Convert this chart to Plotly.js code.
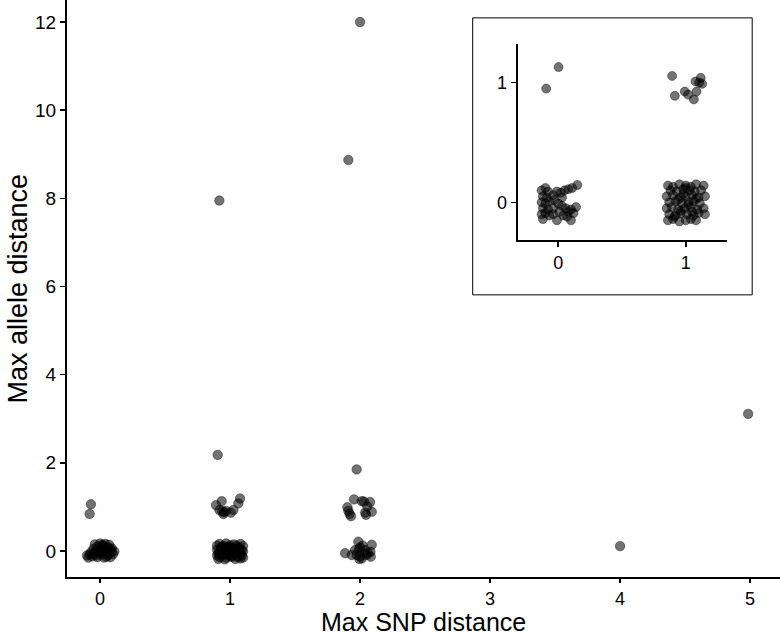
<!DOCTYPE html>
<html>
<head>
<meta charset="utf-8">
<script src="https://cdn.plot.ly/plotly-3.0.1.min.js"></script>
<style>
  html, body { margin: 0; padding: 0; background: #fff; }
  #chart { width: 780px; height: 636px; }
</style>
</head>
<body>
<div id="chart"></div>
<script>
// Main panel: jittered points (Max SNP distance, Max allele distance)
const mainX = [
  // SNP 0
  -0.07, -0.08,
  -0.04, 0.00, 0.04, 0.07, -0.02, 0.02, 0.06, -0.05, 0.00, 0.04, 0.08, -0.03, 0.01, 0.05, 0.09,
  -0.07, -0.10, -0.09, -0.06, -0.04, -0.02, 0.01, 0.03, 0.06, 0.08, 0.10, 0.11, 0.03, -0.01, 0.07,
  -0.08, 0.05, 0.09, -0.03, 0.02,
  // SNP 1
  0.918, 0.905,
  0.892, 0.936, 0.918, 0.949, 0.969, 1.026, 1.064, 1.077, 0.955, 0.940, 1.005,
  0.92, 0.97, 1.03, 1.08, 0.90, 0.95, 1.00, 1.05, 1.10, 0.93, 0.98, 1.02, 1.07,
  0.90, 0.96, 1.01, 1.04, 1.09, 0.92, 0.97, 1.00, 1.06, 1.10, 0.91, 0.95, 1.02, 1.05, 1.08,
  0.90, 0.94, 0.99, 1.03, 1.09, 0.92, 0.97, 1.01, 1.06, 1.10, 0.91, 0.96, 1.04, 1.08,
  0.99, 1.01, 0.94, 1.06, 0.96, 1.03,
  // SNP 2
  2.00, 1.91, 1.974,
  1.903, 1.954, 2.013, 2.077, 2.090, 2.046, 1.930, 1.910, 2.056, 2.030, 2.040, 1.920,
  1.885, 1.936, 1.987, 2.000, 2.090, 2.082, 2.013, 1.962, 2.038, 2.051, 1.974, 1.995, 2.080,
  2.000, 2.020, 1.990, 2.060,
  // SNP 4, 5
  4.00, 4.985
];
const mainY = [
  // SNP 0
  1.06, 0.84,
  0.15, 0.17, 0.16, 0.14, 0.10, 0.11, 0.08, 0.05, 0.05, 0.03, 0.04, 0.00, -0.01, 0.00, -0.02,
  -0.03, -0.10, -0.15, -0.12, -0.06, -0.14, -0.08, -0.15, -0.10, -0.14, -0.07, -0.01, 0.07, -0.04, -0.05,
  -0.08, -0.13, 0.06, -0.10, 0.14,
  // SNP 1
  7.95, 2.18,
  1.04, 1.13, 0.93, 0.84, 0.91, 0.93, 1.08, 1.19, 0.88, 0.90, 0.87,
  0.16, 0.17, 0.15, 0.16, 0.12, 0.11, 0.13, 0.12, 0.11, 0.07, 0.08, 0.06, 0.07,
  0.03, 0.02, 0.04, 0.03, 0.02, -0.02, -0.01, -0.03, -0.02, -0.01, -0.06, -0.07, -0.05, -0.06, -0.07,
  -0.10, -0.11, -0.10, -0.09, -0.10, -0.14, -0.15, -0.13, -0.14, -0.15, -0.18, -0.19, -0.18, -0.17,
  0.09, -0.12, 0.10, 0.05, -0.04, 0.00,
  // SNP 2
  12.0, 8.87, 1.85,
  0.99, 1.17, 1.13, 1.11, 0.89, 0.82, 0.79, 0.91, 1.01, 1.12, 0.87, 0.84,
  -0.05, -0.09, 0.21, 0.08, 0.14, -0.13, -0.17, 0.02, 0.02, -0.09, -0.09, -0.18, -0.02,
  -0.12, 0.12, 0.04, -0.05,
  // SNP 4, 5
  0.11, 3.11
];

// Inset panel: zoom on SNP 0 and 1, allele distance up to ~1.3
const insetX = [
  // SNP 0
  -0.094, 0.003,
  -0.13, -0.10, -0.08, -0.12, -0.09, -0.13, -0.10, -0.07, -0.12, -0.08, -0.13, -0.10, -0.12, -0.07,
  -0.04, -0.01, 0.02, 0.05, 0.08, 0.11, 0.15, 0.03, -0.03,
  0.00, 0.03, 0.06, -0.04, 0.01,
  0.10, 0.14, 0.12, 0.10, 0.07, 0.04, -0.01, -0.04, 0.08,
  // SNP 1
  0.893, 0.914, 0.992, 1.018, 1.063, 1.084, 1.076, 1.117, 1.128, 1.105,
  0.86, 0.90, 0.95, 1.00, 1.04, 1.08, 1.14,
  0.88, 0.93, 0.98, 1.03, 1.07, 1.12,
  0.85, 0.90, 0.96, 1.00, 1.05, 1.10, 1.15,
  0.87, 0.92, 0.97, 1.02, 1.06, 1.11,
  0.85, 0.89, 0.94, 0.99, 1.04, 1.09, 1.14,
  0.87, 0.92, 0.96, 1.01, 1.06, 1.10, 1.15,
  0.86, 0.90, 0.95, 1.00, 1.04, 1.08,
  0.98, 1.02, 0.94, 1.05, 0.91, 1.00, 0.96, 1.08
];
const insetY = [
  // SNP 0
  0.95, 1.13,
  0.10, 0.12, 0.09, 0.05, 0.04, 0.00, -0.01, 0.01, -0.05, -0.06, -0.10, -0.09, -0.14, -0.11,
  0.06, 0.09, 0.08, 0.10, 0.11, 0.12, 0.145, 0.04, 0.02,
  -0.01, -0.03, -0.05, -0.05, -0.08,
  -0.06, -0.04, -0.09, -0.15, -0.12, -0.11, -0.15, -0.10, -0.08,
  // SNP 1
  1.056, 0.89, 0.925, 0.90, 0.86, 0.925, 1.01, 1.04, 0.99, 1.00,
  0.14, 0.13, 0.15, 0.14, 0.13, 0.15, 0.14,
  0.10, 0.09, 0.11, 0.10, 0.09, 0.10,
  0.05, 0.06, 0.04, 0.05, 0.06, 0.04, 0.05,
  0.00, 0.01, -0.01, 0.00, 0.01, -0.01,
  -0.05, -0.04, -0.06, -0.05, -0.04, -0.06, -0.05,
  -0.10, -0.11, -0.09, -0.10, -0.11, -0.09, -0.10,
  -0.15, -0.14, -0.16, -0.15, -0.14, -0.15,
  0.07, -0.02, 0.02, -0.08, -0.12, 0.12, -0.07, 0.03
];

const mainXTicks = [0, 1, 2, 3, 4, 5];
const mainYTicks = [0, 2, 4, 6, 8, 10, 12];
const insetTicks = [0, 1];
const xTitle = "Max SNP distance";
const yTitle = "Max allele distance";

const FONT = "Liberation Sans, Arial, sans-serif";
const markerStyle = (size) => ({
  size: size,
  color: "rgba(0,0,0,0.55)",
  line: { color: "rgba(0,0,0,0.4)", width: 1 }
});

const traces = [
  { x: mainX, y: mainY, type: "scatter", mode: "markers", xaxis: "x", yaxis: "y",
    marker: markerStyle(9.5), hoverinfo: "skip" },
  { x: insetX, y: insetY, type: "scatter", mode: "markers", xaxis: "x2", yaxis: "y2",
    marker: markerStyle(9), hoverinfo: "skip" }
];

const axisCommon = {
  showline: true, linecolor: "#000", linewidth: 2,
  ticks: "outside", ticklen: 5, tickwidth: 1.5, tickcolor: "#000",
  showgrid: false, zeroline: false,
  tickfont: { family: FONT, size: 19, color: "#000" },
  fixedrange: true
};

const layout = {
  width: 780, height: 636,
  margin: { l: 67, r: 0, t: 0, b: 59, pad: 0 },
  paper_bgcolor: "#fff", plot_bgcolor: "rgba(0,0,0,0)",
  showlegend: false,
  font: { family: FONT, color: "#000" },
  xaxis: Object.assign({}, axisCommon, {
    domain: [0, 1], range: [-0.254, 5.23], tickvals: mainXTicks,
    ticktext: mainXTicks.map(String), anchor: "y", automargin: false,
    ticklen: 4, tickfont: { family: FONT, size: 18, color: "#000" }
  }),
  yaxis: Object.assign({}, axisCommon, {
    domain: [0, 1], range: [-0.59, 12.5], tickvals: mainYTicks,
    ticktext: mainYTicks.map(String), anchor: "x", automargin: false
  }),
  xaxis2: Object.assign({}, axisCommon, {
    domain: [0.632, 0.925], range: [-0.318, 1.319], tickvals: insetTicks,
    ticktext: insetTicks.map(String), anchor: "y2", automargin: false,
    ticklen: 5, tickfont: { family: FONT, size: 18, color: "#000" }
  }),
  yaxis2: Object.assign({}, axisCommon, {
    domain: [0.584, 0.924], range: [-0.315, 1.324], tickvals: insetTicks,
    ticktext: insetTicks.map(String), anchor: "x2", automargin: false,
    ticklen: 5, tickfont: { family: FONT, size: 18, color: "#000" }
  }),
  annotations: [
    { text: xTitle, xref: "paper", yref: "paper", x: 0.5, y: -0.078,
      xanchor: "center", yanchor: "middle", showarrow: false,
      font: { family: FONT, size: 25, color: "#000" } },
    { text: yTitle, xref: "paper", yref: "paper", x: -0.07, y: 0.5, textangle: -90,
      xanchor: "center", yanchor: "middle", showarrow: false,
      font: { family: FONT, size: 27, color: "#000" } }
  ],
  shapes: [{
    type: "rect", xref: "paper", yref: "paper",
    x0: 0.569, x1: 0.961, y0: 0.489, y1: 0.969,
    line: { color: "#000", width: 1 }, fillcolor: "#fff", layer: "below"
  }]
};

Plotly.newPlot("chart", traces, layout, { displayModeBar: false, staticPlot: true });
</script>
</body>
</html>
